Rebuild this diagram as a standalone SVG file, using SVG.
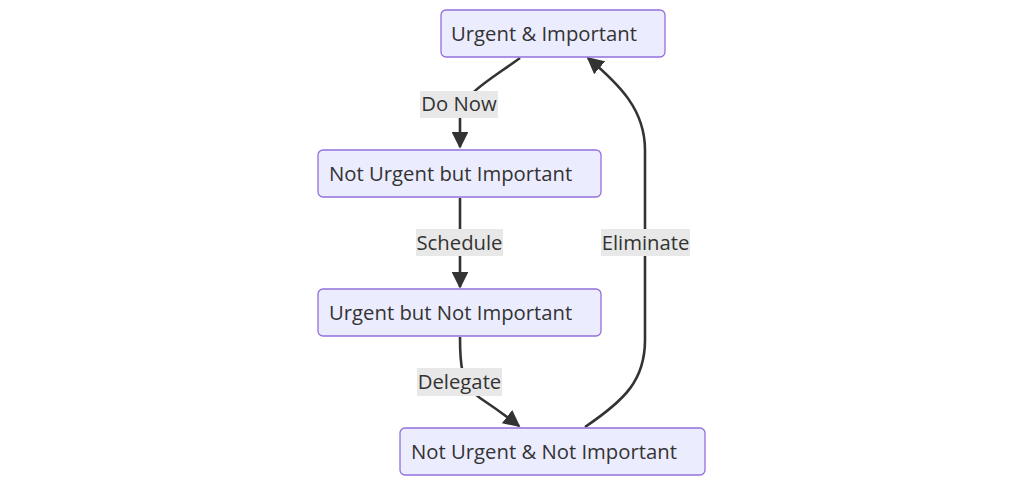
<svg xmlns="http://www.w3.org/2000/svg" width="1024" height="486" viewBox="0 0 1024 486">
<style>
.node rect{fill:#ECECFF;stroke:#9370DB;stroke-width:1.3}
text{font-family:"Open Sans","Liberation Sans",sans-serif;font-size:20.3px;fill:#333}
.edge{fill:none;stroke:#333;stroke-width:2.6}
.lbl{fill:#e8e8e8}
</style>
<defs>
<marker id="ah" viewBox="0 0 10 10" refX="9" refY="5" markerWidth="6.5" markerHeight="6.5" markerUnits="strokeWidth" orient="auto">
<path d="M0,0 L10,5 L0,10 z" fill="#333"/>
</marker>
</defs>
<rect width="1024" height="486" fill="#fff"/>
<g id="connectors">
<path class="edge" d="M520,58 C490,80 460,95 460,118 L460,147" marker-end="url(#ah)"/>
<path class="edge" d="M460,198 L460,287" marker-end="url(#ah)"/>
<path class="edge" d="M460,337 C460,360 460,385 480,398 C495,408 505,415 519,426" marker-end="url(#ah)"/>
<path class="edge" d="M585,427 C625,400 645,380 645,340 L645,150 C645,110 620,85 588,58" marker-end="url(#ah)"/>
<g id="lbl-donow"><rect class="lbl" x="420" y="91" width="78" height="27"/><text x="459" y="111" text-anchor="middle">Do Now</text></g>
<g id="lbl-schedule"><rect class="lbl" x="416" y="229" width="87" height="27"/><text x="459.5" y="250" text-anchor="middle">Schedule</text></g>
<g id="lbl-delegate"><rect class="lbl" x="417" y="368" width="85" height="28"/><text x="459.5" y="389" text-anchor="middle">Delegate</text></g>
<g id="lbl-eliminate"><rect class="lbl" x="601" y="229" width="89" height="27"/><text x="645.5" y="250" text-anchor="middle">Eliminate</text></g>
</g>
<g id="n1" class="node"><rect x="441" y="10" width="224" height="47" rx="5"/><text x="451" y="41">Urgent &amp; Important</text></g>
<g id="n2" class="node"><rect x="318" y="150" width="283" height="47" rx="5"/><text x="329" y="181">Not Urgent but Important</text></g>
<g id="n3" class="node"><rect x="318" y="289" width="283" height="47" rx="5"/><text x="329" y="320">Urgent but Not Important</text></g>
<g id="n4" class="node"><rect x="400" y="428" width="305" height="47" rx="5"/><text x="411" y="459">Not Urgent &amp; Not Important</text></g>
</svg>
